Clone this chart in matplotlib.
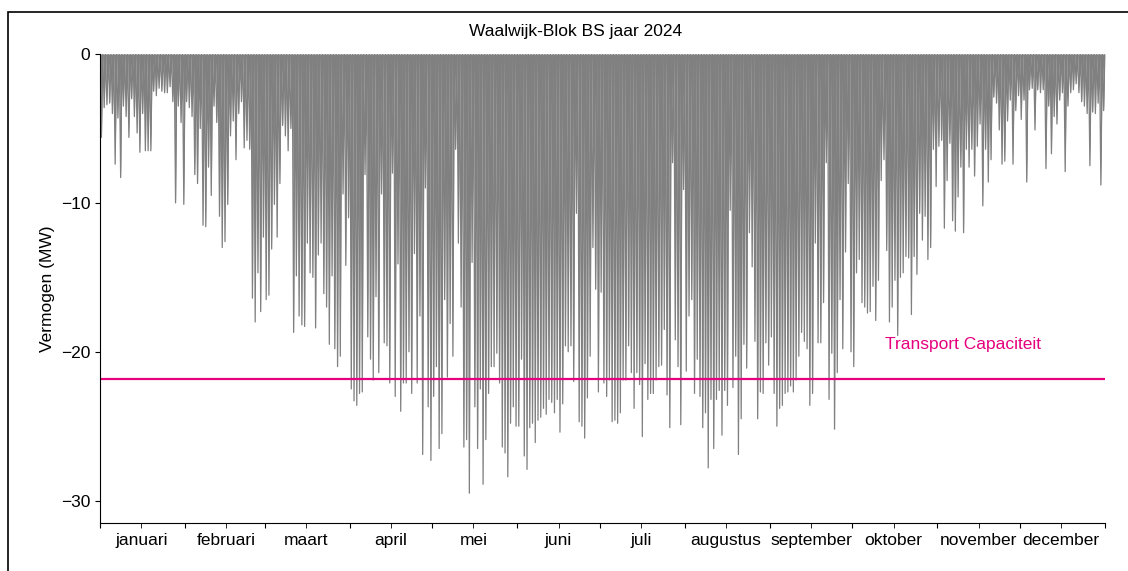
import numpy as np
import matplotlib
matplotlib.use("Agg")
import matplotlib.pyplot as plt
import matplotlib.dates as mdates
from matplotlib.patches import Rectangle
from matplotlib.ticker import FuncFormatter, NullFormatter

TITLE = "Waalwijk-Blok BS jaar 2024"
Y_LABEL = "Vermogen (MW)"
CAPACITY = -21.8
CAPACITY_LABEL = "Transport Capaciteit"

MONTH_NAMES = ["januari", "februari", "maart", "april", "mei", "juni", "juli",
               "augustus", "september", "oktober", "november", "december"]

# Daily peak feed-in (MW, negative) per month
jan = [-5.6, -3.6, -3.4, -3.3, -4.0, -7.4, -4.3, -8.3, -3.5, -4.2, -5.6, -3.0, -4.2, -5.3, -6.6, -4.0,
       -6.5, -6.5, -6.5, -2.5, -2.8, -2.3, -2.5, -2.6, -2.6, -2.2, -3.2, -10.0, -3.5, -4.6, -10.1]
feb = [-3.2, -3.6, -4.2, -8.1, -8.7, -5.0, -11.5, -11.6, -7.6, -9.5, -3.5, -4.6, -10.9, -13.0, -12.6,
       -10.1, -5.5, -4.5, -7.1, -4.0, -3.2, -6.3, -5.8, -6.4, -16.4, -18.0, -14.7, -17.3, -12.3]
mar = [-16.5, -16.2, -13.1, -10.1, -12.3, -8.7, -4.8, -5.5, -6.5, -5.0, -18.7, -14.9, -17.6, -18.2,
       -18.3, -12.7, -14.7, -15.0, -18.4, -13.5, -12.7, -16.1, -17.0, -19.5, -14.9, -19.8, -21.0,
       -20.3, -9.4, -14.2, -11.0]
apr = [-22.5, -23.3, -23.6, -22.8, -22.7, -8.1, -19.0, -20.5, -21.9, -16.3, -21.4, -9.4, -19.4, -19.6,
       -22.1, -8.0, -23.0, -14.1, -24.0, -22.1, -22.1, -20.0, -22.8, -13.4, -22.1, -17.6, -26.9, -9.0,
       -23.7, -27.3]
may = [-23.0, -21.0, -26.5, -25.5, -16.5, -21.7, -18.1, -20.3, -6.4, -12.7, -17.0, -26.4, -25.9, -29.5,
       -14.0, -23.7, -26.5, -22.5, -28.9, -25.9, -22.8, -21.0, -21.0, -20.1, -22.1, -26.4, -26.8, -28.4,
       -24.8, -23.7, -25.0]
jun = [-25.0, -20.5, -27.0, -27.9, -25.1, -24.8, -26.1, -24.6, -24.4, -23.8, -24.2, -23.2, -23.4, -24.1,
       -23.2, -25.4, -23.5, -19.6, -20.0, -19.6, -22.0, -10.7, -24.7, -25.0, -25.8, -23.1, -20.3, -13.0,
       -15.8, -22.7]
jul = [-16.0, -22.1, -23.0, -21.9, -24.7, -24.6, -24.8, -24.1, -21.9, -21.9, -19.6, -21.4, -23.8, -21.4,
       -22.2, -25.7, -20.8, -23.2, -22.8, -22.8, -21.9, -21.0, -20.9, -18.5, -22.9, -25.1, -7.3, -19.2,
       -21.0, -24.9, -9.1]
aug = [-21.3, -17.6, -16.5, -22.8, -20.5, -23.0, -25.1, -24.1, -27.8, -23.2, -26.5, -23.2, -22.6, -25.6,
       -22.6, -23.6, -10.5, -22.4, -20.3, -26.9, -24.5, -19.5, -21.1, -12.0, -14.3, -19.3, -24.5, -22.7,
       -22.8, -19.4, -20.9]
sep = [-19.0, -22.8, -25.0, -23.8, -23.6, -22.8, -22.7, -22.3, -22.7, -21.9, -20.3, -18.7, -19.3, -19.8,
       -23.6, -22.8, -12.7, -19.4, -19.4, -16.7, -7.3, -23.2, -20.1, -25.2, -21.4, -16.5, -19.8, -13.3,
       -8.7, -20.0]
oct_ = [-21.0, -14.7, -13.8, -16.7, -17.0, -17.4, -17.3, -15.6, -17.9, -15.2, -8.5, -7.1, -13.2, -18.0,
        -17.0, -15.2, -18.9, -15.0, -14.7, -13.6, -13.7, -17.5, -13.6, -14.8, -10.7, -12.5, -10.9, -13.8,
        -13.0, -6.4, -8.9]
nov = [-6.2, -5.8, -11.7, -8.5, -6.0, -11.2, -11.9, -9.6, -7.6, -12.0, -6.4, -7.6, -6.4, -8.2, -6.2,
       -4.7, -10.2, -6.4, -8.6, -7.1, -2.9, -3.3, -5.1, -7.4, -7.2, -4.5, -3.1, -7.4, -3.8, -2.8]
dec = [-4.4, -3.1, -8.6, -2.4, -2.3, -5.1, -2.4, -2.6, -2.4, -7.7, -3.5, -6.7, -4.2, -4.7, -3.1, -2.6,
       -7.9, -3.5, -2.6, -2.4, -2.0, -2.6, -3.2, -3.5, -4.0, -7.5, -3.9, -4.0, -3.3, -8.8, -3.8]


def main():
    peaks = np.array(jan + feb + mar + apr + may + jun + jul + aug + sep + oct_ + nov + dec)
    days = np.arange("2024-01-01", "2025-01-01", dtype="datetime64[D]").astype("datetime64[h]")

    # one spike per day: 0 at midnight, daily peak at noon
    t = np.empty(2 * len(days) + 1, dtype="datetime64[h]")
    t[0:-1:2] = days
    t[1::2] = days + np.timedelta64(12, "h")
    t[-1] = days[-1] + np.timedelta64(24, "h")
    y = np.zeros(len(t))
    y[1::2] = peaks

    plt.rcParams["font.family"] = ["Liberation Sans", "DejaVu Sans"]
    plt.rcParams["font.size"] = 12.5

    fig = plt.figure(figsize=(11.28, 5.71), dpi=100)
    ax = fig.add_axes([0.0887, 0.0841, 0.8909, 0.8213])

    ax.fill_between(t, y, 0, color="grey", linewidth=0)
    ax.plot(t, y, color="grey", linewidth=0.9)
    ax.axhline(CAPACITY, color="#e6007e", linewidth=1.6)
    ax.text(np.datetime64("2024-10-13"), -19.8, CAPACITY_LABEL, color="#e6007e",
            va="baseline", ha="left")

    ax.set_xlim(np.datetime64("2024-01-01"), np.datetime64("2025-01-01"))
    ax.set_ylim(-31.5, 0)
    ax.set_yticks([0, -10, -20, -30])
    ax.set_ylabel(Y_LABEL)

    ax.xaxis.set_major_locator(mdates.MonthLocator())
    ax.xaxis.set_major_formatter(NullFormatter())
    ax.xaxis.set_minor_locator(mdates.MonthLocator(bymonthday=16))
    ax.xaxis.set_minor_formatter(
        FuncFormatter(lambda v, pos: MONTH_NAMES[mdates.num2date(v).month - 1]))
    ax.tick_params(axis="x", which="both", length=3.5)

    ax.spines["top"].set_visible(False)
    ax.spines["right"].set_visible(False)

    fig.text(0.510, 1 - 36 / 571, TITLE, ha="center", va="baseline")

    # outer frame, only left and top edges fall inside the picture
    fig.add_artist(Rectangle((8 / 1128, -0.2), 1.2, 1.2 - 12 / 571, transform=fig.transFigure,
                             fill=False, edgecolor="black", linewidth=1.2))

    fig.savefig("out.png", dpi=100)
    plt.close(fig)


if __name__ == "__main__":
    main()
